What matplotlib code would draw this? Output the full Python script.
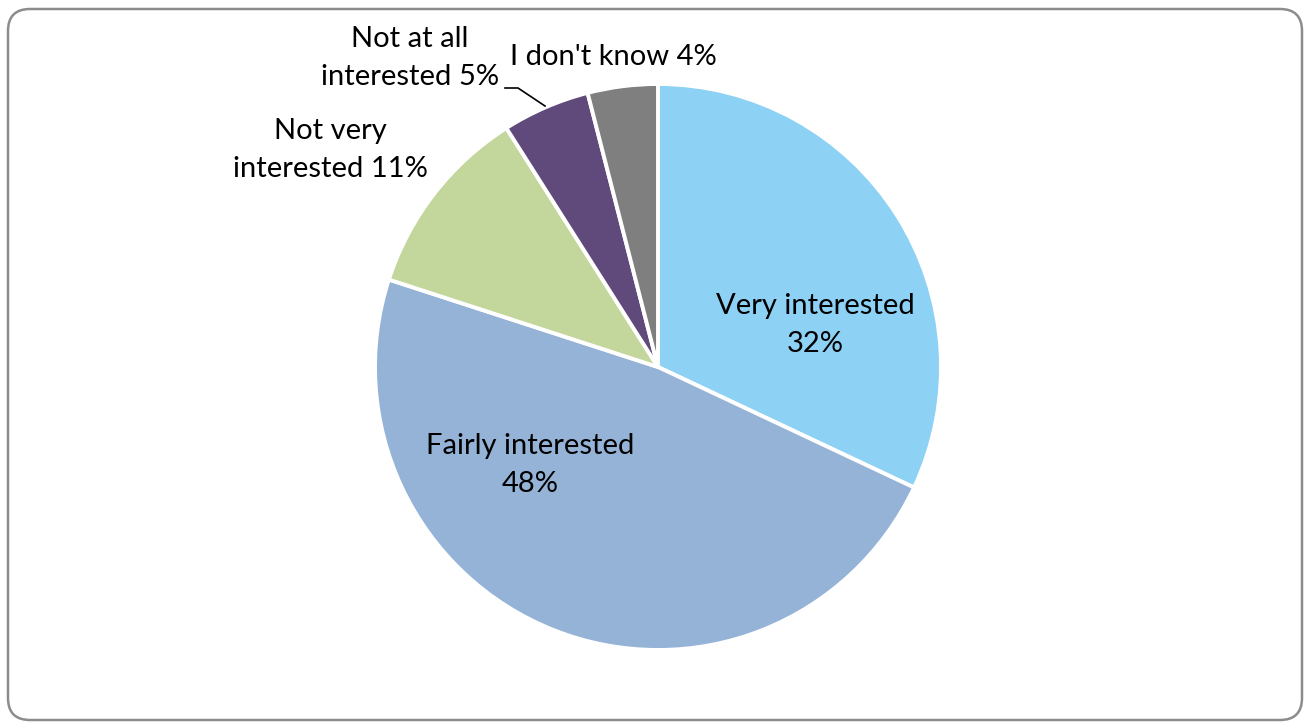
import matplotlib
matplotlib.use("Agg")
import matplotlib.pyplot as plt
from matplotlib.patches import FancyBboxPatch

categories = ["Very interested", "Fairly interested", "Not very\ninterested",
              "Not at all\ninterested", "I don't know"]
values = [32, 48, 11, 5, 4]
colors = ["#8DD1F5", "#95B3D7", "#C3D69B", "#604A7B", "#7F7F7F"]

W, H = 1309, 722
plt.rcParams["font.family"] = ["Lato", "DejaVu Sans"]

fig = plt.figure(figsize=(W / 100, H / 100), dpi=100)
ax = fig.add_axes([0, 0, 1, 1])
ax.set_xlim(0, W)
ax.set_ylim(0, H)
ax.set_aspect("equal")
ax.axis("off")

# outer rounded frame
frame = FancyBboxPatch((8, 2), W - 15, H - 11, boxstyle="round,pad=0,rounding_size=22",
                       transform=ax.transData, fill=False, edgecolor="#8C8C8C", lw=1.8)
ax.add_patch(frame)

cx, cy, r = 658, H - 367, 283
wedges, _ = ax.pie(values, colors=colors, startangle=90, counterclock=False,
                   center=(cx, cy), radius=r,
                   wedgeprops=dict(edgecolor="white", linewidth=2.8))
ax.set_xlim(0, W)
ax.set_ylim(0, H)

fs = 21
# label anchor points (pixel positions, y measured from top)
label_pos = [(815, 325), (530, 465), (330, 150), (410, 58), (613, 57)]
for cat, v, (x, y) in zip(categories, values, label_pos):
    if cat.startswith("Very") or cat.startswith("Fairly"):
        txt = f"{cat}\n{v}%"
    else:
        txt = f"{cat} {v}%"
    ax.text(x, H - y, txt, ha="center", va="center", fontsize=fs,
            color="black", linespacing=1.55)

# leader line for "Not at all interested"
ax.plot([505, 518, 545], [H - 88, H - 88, H - 106], color="black", lw=1.2)

fig.savefig("out.png", dpi=100)
